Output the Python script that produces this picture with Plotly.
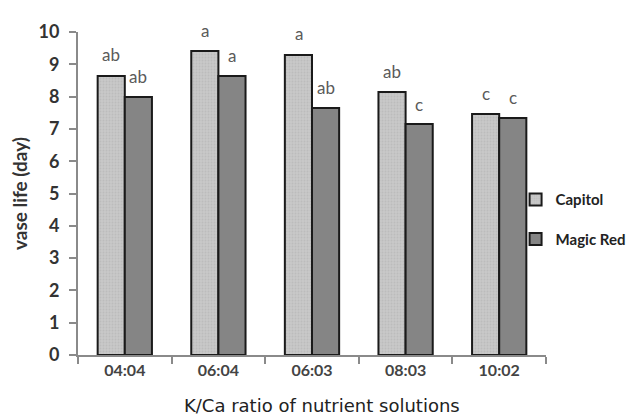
import plotly.graph_objects as go

categories = ["04:04", "06:04", "06:03", "08:03", "10:02"]
capitol = [8.64, 9.41, 9.29, 8.14, 7.46]
magic_red = [7.99, 8.64, 7.65, 7.15, 7.34]
capitol_letters = ["ab", "a", "a", "ab", "c"]
magic_letters = ["ab", "a", "ab", "c", "c"]
y_ticks = list(range(0, 11))

fig = go.Figure()
fig.add_trace(go.Bar(
    x=categories, y=capitol, name="Capitol",
    marker=dict(color="#c3c3c3", line=dict(color="#1a1a1a", width=2),
                pattern=dict(shape=".", fgcolor="#b0b0b0", bgcolor="#c8c8c8", size=3, solidity=0.3)),
    legendgroup="a",
))
fig.add_trace(go.Bar(
    x=categories, y=magic_red, name="Magic Red",
    marker=dict(color="#858585", line=dict(color="#1a1a1a", width=2)),
    legendgroup="b",
))

for cat, v, t in zip(categories, capitol, capitol_letters):
    fig.add_annotation(x=cat, y=v, text=t, showarrow=False, xshift=-13.5, yshift=21,
                       font=dict(family="Lato", size=17, color="#5a5a5a"))
for cat, v, t in zip(categories, magic_red, magic_letters):
    fig.add_annotation(x=cat, y=v, text=t, showarrow=False, xshift=13.5, yshift=20,
                       font=dict(family="Lato", size=17, color="#5a5a5a"))

fig.add_annotation(xref="paper", yref="paper", x=0.5, y=0, xshift=10, yshift=-50,
                   yanchor="middle", showarrow=False,
                   text="K/Ca ratio of nutrient solutions",
                   font=dict(family="DejaVu Sans", size=18, color="#222222"))

fig.update_layout(
    width=640, height=416,
    margin=dict(l=70, r=102, t=24, b=69, autoexpand=False),
    paper_bgcolor="white", plot_bgcolor="white",
    barmode="group", bargap=0.42, bargroupgap=0,
    showlegend=True,
    legend=dict(x=0.935, xanchor="left", y=0.42, yanchor="middle",
                bgcolor="rgba(0,0,0,0)",
                font=dict(family="Lato", size=15, color="#222222", weight="bold"),
                tracegroupgap=17, itemwidth=30),
    xaxis=dict(
        type="category", showline=True, linecolor="#8a8a8a", linewidth=2,
        ticks="outside", tickson="boundaries", ticklen=7, tickcolor="#8a8a8a", tickwidth=2,
        tickfont=dict(family="Lato", size=16, color="#444444", weight="bold"),
        showgrid=False,
    ),
    yaxis=dict(
        range=[0, 10], tickvals=y_ticks, showline=True, linecolor="#8a8a8a", linewidth=2,
        ticks="outside", ticklen=7, tickcolor="#8a8a8a", tickwidth=2, ticklabelstandoff=6,
        tickfont=dict(family="Lato", size=18, color="#333333", weight="bold"),
        title=dict(text="vase life (day)", standoff=6,
                   font=dict(family="Lato", size=19, color="#333333", weight="bold")),
        showgrid=False, zeroline=False,
    ),
)

fig.write_html("out.html")
